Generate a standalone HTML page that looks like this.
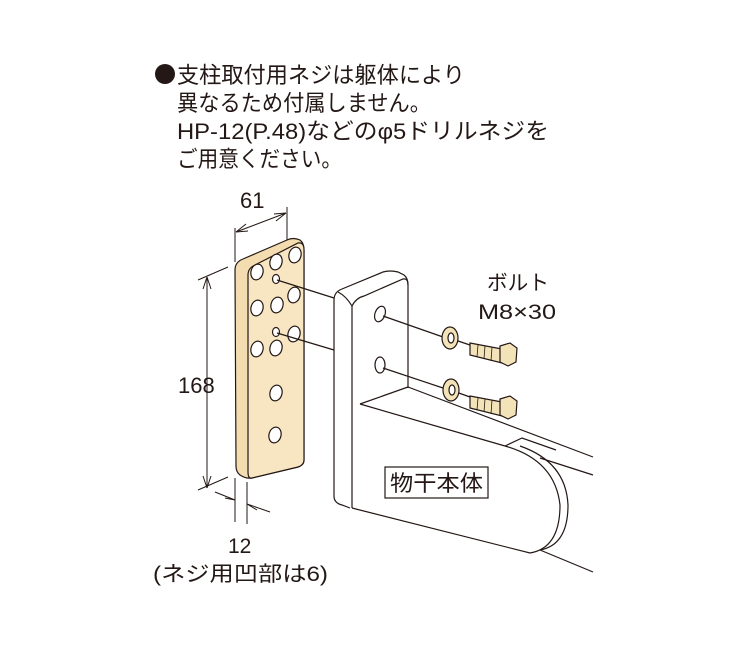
<!DOCTYPE html>
<html><head><meta charset="utf-8"><style>
html,body{margin:0;padding:0;background:#fff;}
svg{display:block;}
text{font-family:"Liberation Sans","Noto Sans CJK JP",sans-serif;fill:#231815;}
</style></head><body>
<svg width="750" height="648" viewBox="0 0 750 648" xmlns="http://www.w3.org/2000/svg">
<g font-size="22.5">
<circle cx="165" cy="74" r="10" fill="#231815"/>
<text x="177" y="83" textLength="288" lengthAdjust="spacingAndGlyphs">支柱取付用ネジは躯体により</text>
<text x="177" y="111" textLength="254" lengthAdjust="spacingAndGlyphs">異なるため付属しません。</text>
<text x="177" y="139" textLength="372" lengthAdjust="spacingAndGlyphs">HP-12(P.48)などのφ5ドリルネジを</text>
<text x="177" y="167" textLength="165" lengthAdjust="spacingAndGlyphs">ご用意ください。</text>
</g>
<g stroke="#231815" fill="none" stroke-width="1.2">
<!-- bracket -->
<path d="M334,300 Q334,292 342,289 L383,272 Q390,270 398,272 L404,275 Q408,278 408,285 L408,388" fill="#fff"/>
<path d="M334,300 L334,496 Q334,503 342,505 L350,508"/>
<path d="M352,306 L352,508"/>
<path d="M338,292 Q346,296 352,306"/>
<path d="M352,306 Q356,298 364,296 L403,279 Q408,278 408,285"/>
<path d="M408,387 L593,457"/>
<path d="M360,404 L408,387"/>
<path d="M360,404 L505,446"/>
<path d="M540,458 L593,475"/>
<path d="M505,446 L522,438 L556,450"/>
<path d="M505,446 Q555,460 560,505 Q560,548 530,553 L352,508"/>
<path d="M520,446 Q566,462 568,505 Q568,545 540,550"/>
<path d="M540,550 L593,572"/>
<ellipse cx="380" cy="314" rx="5" ry="8" transform="rotate(20 380 314)"/>
<ellipse cx="380" cy="365" rx="5" ry="8"/>
<path d="M383,316 L443,337"/>
<path d="M383,368 L446,389"/>
<path d="M455,340 L470,345"/>
<path d="M456,392 L470,397"/>
<!-- plate -->
<path d="M235,270 Q235,262 243,259 L287,240 Q293,237 300,240 Q304,243 304,250 L304,460 Q304,465 298,467 L252,478 Q246,479 240,475 Q236,472 236,466 Z" fill="#f3dcb0"/>
<path d="M248,275 Q248,268 255,265 L298,243 Q304,242 304,250 L304,460 Q304,465 298,467 L252,478 Q248,479 248,472 Z" fill="#f8e6c2"/>
</g>
<g stroke="#231815" fill="#fff" stroke-width="1.2">
<ellipse cx="257" cy="272" rx="6" ry="8" transform="rotate(15 257 272)"/>
<ellipse cx="276" cy="262" rx="6" ry="8" transform="rotate(15 276 262)"/>
<ellipse cx="295" cy="255" rx="6" ry="8" transform="rotate(15 295 255)"/>
<ellipse cx="276" cy="279" rx="3.5" ry="4.5"/>
<ellipse cx="294" cy="295" rx="6" ry="8" transform="rotate(15 294 295)"/>
<ellipse cx="257" cy="308" rx="6" ry="8" transform="rotate(15 257 308)"/>
<ellipse cx="277" cy="305" rx="6" ry="8" transform="rotate(15 277 305)"/>
<ellipse cx="276" cy="332" rx="3.5" ry="4.5"/>
<ellipse cx="294" cy="334" rx="6" ry="8" transform="rotate(15 294 334)"/>
<ellipse cx="257" cy="349" rx="6" ry="8" transform="rotate(15 257 349)"/>
<ellipse cx="276" cy="348" rx="6" ry="8" transform="rotate(15 276 348)"/>
<ellipse cx="276" cy="393" rx="6" ry="8" transform="rotate(15 276 393)"/>
<ellipse cx="275" cy="435" rx="6" ry="8" transform="rotate(15 275 435)"/>
</g>
<g stroke="#231815" stroke-width="1.2" fill="none">
<path d="M277,280 L334,298"/>
<path d="M277,333 L334,350"/>
</g>
<!-- washers & bolts -->
<g stroke="#231815" stroke-width="1.2" fill="#f3e3b8">
<ellipse cx="450" cy="338" rx="8" ry="11"/>
<ellipse cx="451" cy="338" rx="3" ry="5" fill="#fff"/>
<ellipse cx="451" cy="390" rx="8" ry="11"/>
<ellipse cx="452" cy="390" rx="3" ry="5" fill="#fff"/>
<path d="M470,343 L502,349 L502,363 L470,355 Z"/>
<path d="M500,346 L510,343 L517,348 L516,362 L508,366 L500,362 Z"/>
<path d="M470,396 L502,402 L502,416 L470,408 Z"/>
<path d="M500,399 L510,396 L517,401 L516,415 L508,419 L500,415 Z"/>
</g>
<g stroke="#231815" stroke-width="0.8">
<path d="M478,345 L477,357 M485,346 L484,359 M492,347 L491,361"/>
<path d="M478,398 L477,410 M485,399 L484,412 M492,400 L491,414"/>
</g>
<!-- label box -->
<rect x="385" y="467" width="103" height="31" fill="#fff" stroke="#231815" stroke-width="1.2"/>
<text x="390" y="491" font-size="22" textLength="93" lengthAdjust="spacingAndGlyphs">物干本体</text>
<text x="487" y="290" font-size="21" textLength="62" lengthAdjust="spacingAndGlyphs">ボルト</text>
<text x="478" y="319" font-size="21" textLength="78" lengthAdjust="spacingAndGlyphs">M8×30</text>
<!-- dimensions -->
<g stroke="#231815" stroke-width="1" fill="none">
<path d="M235,228 L235,262"/>
<path d="M287,207 L287,240"/>
<path d="M236,232 L286,213"/>
<path d="M236,232 L246,224 M236,232 L248,231"/>
<path d="M286,213 L276,221 M286,213 L274,214"/>
<path d="M198,280 L228,267"/>
<path d="M198,490 L228,477"/>
<path d="M207,277 L207,488"/>
<path d="M207,277 L203,289 M207,277 L211,289"/>
<path d="M207,488 L203,476 M207,488 L211,476"/>
<path d="M235,478 L235,522"/>
<path d="M247,482 L247,524"/>
<path d="M215,492 L235,500 M225,498 L235,500"/>
<path d="M247,504 L270,512 M247,504 L257,510"/>
</g>
<text x="178" y="393" font-size="22">168</text>
<text x="240" y="208" font-size="22">61</text>
<text x="228" y="553" font-size="21">12</text>
<text x="153" y="581" font-size="21" textLength="175" lengthAdjust="spacingAndGlyphs">(ネジ用凹部は6)</text>
</svg>
</body></html>
